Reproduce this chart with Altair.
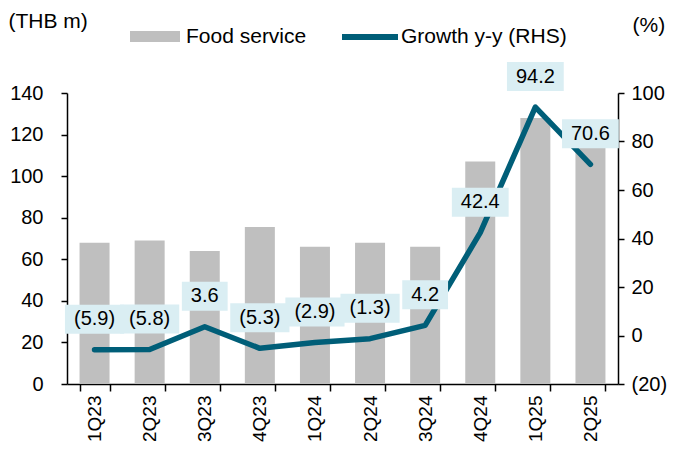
import altair as alt
import pandas as pd

quarters = ["1Q23", "2Q23", "3Q23", "4Q23", "1Q24", "2Q24", "3Q24", "4Q24", "1Q25", "2Q25"]
food_service = [68, 69, 64, 75.5, 66, 68, 66, 107, 128, 117]
growth = [-5.9, -5.8, 3.6, -5.3, -2.9, -1.3, 4.2, 42.4, 94.2, 70.6]

FONT = "Liberation Sans"
BAR_C = "#BFBFBF"
LINE_C = "#005E78"
BOX_C = "#DAEEF3"
FS = 20
LFS = 21


def fmt(v):
    return f"({abs(v):.1f})" if v < 0 else f"{v:.1f}"


char_w = {"(": 6.7, ")": 6.7, ".": 5.6}


def box_path(lbl):
    hw = (sum(char_w.get(c, 11.1) for c in lbl) + 18) / 2
    hh = 14.5
    return f"M{-hw:.1f},{-hh}L{hw:.1f},{-hh}L{hw:.1f},{hh}L{-hw:.1f},{hh}Z"


df = pd.DataFrame({"quarter": quarters, "food": food_service, "growth": growth})
df["label"] = [fmt(v) for v in growth]
df["box"] = [box_path(l) for l in df["label"]]
df["s1"] = "Food service"
df["s2"] = "Growth y-y (RHS)"

xenc = alt.X(
    "quarter:N",
    sort=quarters,
    scale=alt.Scale(paddingInner=0.455, paddingOuter=0.2275),
    axis=alt.Axis(
        title=None, labelAngle=270, tickBand="extent", tickSize=7,
        labelPadding=4, domainColor="black", tickColor="black",
        domainWidth=1.5, tickWidth=1.5, labelFontSize=19, labelFont=FONT,
        labelColor="black", labelLimit=200,
    ),
)

gscale = alt.Scale(domain=[-20, 100], nice=False, zero=False)

bars = alt.Chart(df).mark_bar(size=30).encode(
    x=xenc,
    y=alt.Y(
        "food:Q",
        scale=alt.Scale(domain=[0, 140], nice=False),
        axis=alt.Axis(
            title="(THB m)", titleAngle=0, titleX=-59, titleY=-72,
            titleAlign="left", titleBaseline="middle", titleFontSize=LFS,
            titleFont=FONT, titleFontWeight="normal", titleColor="black",
            values=list(range(0, 141, 20)), grid=False, tickSize=6,
            labelPadding=18, domainColor="black", tickColor="black",
            domainWidth=1.5, tickWidth=1.5, labelFontSize=FS, labelFont=FONT,
            labelColor="black", orient="left",
        ),
    ),
    color=alt.Color(
        "s1:N",
        scale=alt.Scale(domain=["Food service"], range=[BAR_C]),
        legend=alt.Legend(
            title=None, orient="none", legendX=63, legendY=-81.5, padding=0,
            symbolType="M-1,-0.22L1,-0.22L1,0.22L-1,0.22Z", symbolSize=2500,
            symbolStrokeWidth=0, labelFontSize=LFS, labelFont=FONT,
            labelColor="black", labelOffset=6, labelLimit=400,
        ),
    ),
)

line = alt.Chart(df).mark_line(strokeWidth=5.5, strokeCap="round", strokeJoin="round").encode(
    x=alt.X("quarter:N", sort=quarters),
    y=alt.Y(
        "growth:Q",
        scale=gscale,
        axis=alt.Axis(
            title="(%)", titleAngle=0, titleX=14, titleY=-68,
            titleAlign="left", titleBaseline="middle", titleFontSize=LFS,
            titleFont=FONT, titleFontWeight="normal", titleColor="black",
            values=list(range(-20, 101, 20)), grid=False, tickSize=6,
            labelPadding=7, domainColor="black", tickColor="black",
            domainWidth=1.5, tickWidth=1.5, labelFontSize=FS, labelFont=FONT,
            labelColor="black", orient="right",
            labelExpr="datum.value < 0 ? '(' + abs(datum.value) + ')' : datum.label",
        ),
    ),
    stroke=alt.Stroke(
        "s2:N",
        scale=alt.Scale(domain=["Growth y-y (RHS)"], range=[LINE_C]),
        legend=alt.Legend(
            title=None, orient="none", legendX=272, legendY=-87, padding=0,
            symbolType="stroke", symbolSize=3136, symbolStrokeWidth=6,
            labelFontSize=LFS, labelFont=FONT, labelColor="black", labelOffset=0,
            labelLimit=400,
        ),
    ),
)

boxes = alt.Chart(df).mark_point(
    filled=True, opacity=1, size=4, color=BOX_C, strokeWidth=0, yOffset=-30.5
).encode(
    x=alt.X("quarter:N", sort=quarters),
    y=alt.Y("growth:Q", scale=gscale, axis=None),
    shape=alt.Shape("box:N", scale=None, legend=None),
)

texts = alt.Chart(df).mark_text(
    yOffset=-30.5, fontSize=FS, font=FONT, color="black", baseline="middle", align="center"
).encode(
    x=alt.X("quarter:N", sort=quarters),
    y=alt.Y("growth:Q", scale=gscale, axis=None),
    text="label:N",
)

chart = (
    alt.layer(bars, line, boxes, texts)
    .resolve_scale(y="independent", color="independent", stroke="independent", shape="independent")
    .properties(
        width=551, height=291,
        autosize=alt.AutoSizeParams(type="none"),
        padding={"left": 59, "top": 85, "right": 49, "bottom": 58},
    )
    .configure_view(stroke=None)
)

chart.save("out.html", embed_options={"renderer": "svg", "actions": False})
